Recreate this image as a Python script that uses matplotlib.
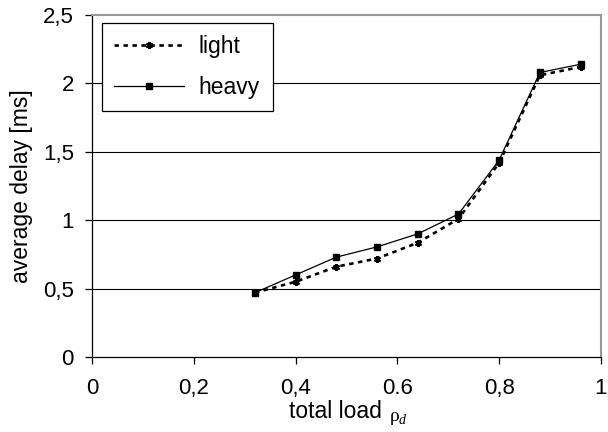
import matplotlib
matplotlib.use("Agg")
import matplotlib.pyplot as plt

load = [0.32, 0.40, 0.48, 0.56, 0.64, 0.72, 0.80, 0.88, 0.96]
light = [0.47, 0.55, 0.66, 0.72, 0.835, 1.01, 1.42, 2.06, 2.12]
heavy = [0.47, 0.60, 0.73, 0.805, 0.90, 1.045, 1.44, 2.08, 2.14]
xticks = [0, 0.2, 0.4, 0.6, 0.8, 1.0]
xticklabels = ["0", "0,2", "0,4", "0.6", "0,8", "1"]
yticks = [0, 0.5, 1.0, 1.5, 2.0, 2.5]
yticklabels = ["0", "0,5", "1", "1,5", "2", "2,5"]

plt.rcParams['font.family'] = ['Liberation Sans', 'DejaVu Sans']

fig = plt.figure(figsize=(6.08, 4.32), dpi=100)
ax = fig.add_axes([92/608, 1-357/432, (601-92)/608, (357-15)/432])

for yv in yticks[1:-1]:
    ax.axhline(yv, color='black', lw=0.8, zorder=1)

ax.plot(load, light, color='black', lw=1.9, ls=(0, (1.7, 1.7)), marker=(6, 2, 0),
        ms=5, mew=1.5, label='light', zorder=3)
ax.plot(load, heavy, color='black', lw=0.9, ls='-', marker='s', ms=4.5,
        label='heavy', zorder=3)

ax.set_xlim(0, 1)
ax.set_ylim(0, 2.5)
ax.set_xticks(xticks)
ax.set_xticklabels(xticklabels, fontsize=16)
ax.set_yticks(yticks)
ax.set_yticklabels(yticklabels, fontsize=16)
ax.tick_params(direction='out', length=5, width=0.9, colors='black')
ax.tick_params(axis='y', pad=8)
ax.tick_params(axis='x', pad=10)

for s in ['left', 'bottom']:
    ax.spines[s].set_color('black')
    ax.spines[s].set_linewidth(0.9)
for s in ['top', 'right']:
    ax.spines[s].set_color('#999999')
    ax.spines[s].set_linewidth(1.5)

ax.set_ylabel("average delay [ms]", fontsize=16.5)
ax.yaxis.set_label_coords(-0.116, 0.5)
ax.text(0.388, -0.125, "total load", transform=ax.transAxes, fontsize=16.5,
        ha='left', va='top')
ax.text(0.585, -0.150, "\u03c1", transform=ax.transAxes, fontsize=14,
        family=['Liberation Serif', 'DejaVu Serif'], ha='left', va='top')
ax.text(0.603, -0.168, "d", transform=ax.transAxes, fontsize=10,
        family=['Liberation Serif', 'DejaVu Serif'], style='italic',
        ha='left', va='top')

leg = ax.legend(loc='upper left', bbox_to_anchor=(0.019, 0.977), borderaxespad=0,
                fontsize=16.5, frameon=True, fancybox=False, edgecolor='black',
                framealpha=1, handlelength=3.05, borderpad=0.55,
                labelspacing=0.75, handletextpad=0.64)
leg.get_frame().set_linewidth(0.9)

fig.savefig("out.png", dpi=100)
